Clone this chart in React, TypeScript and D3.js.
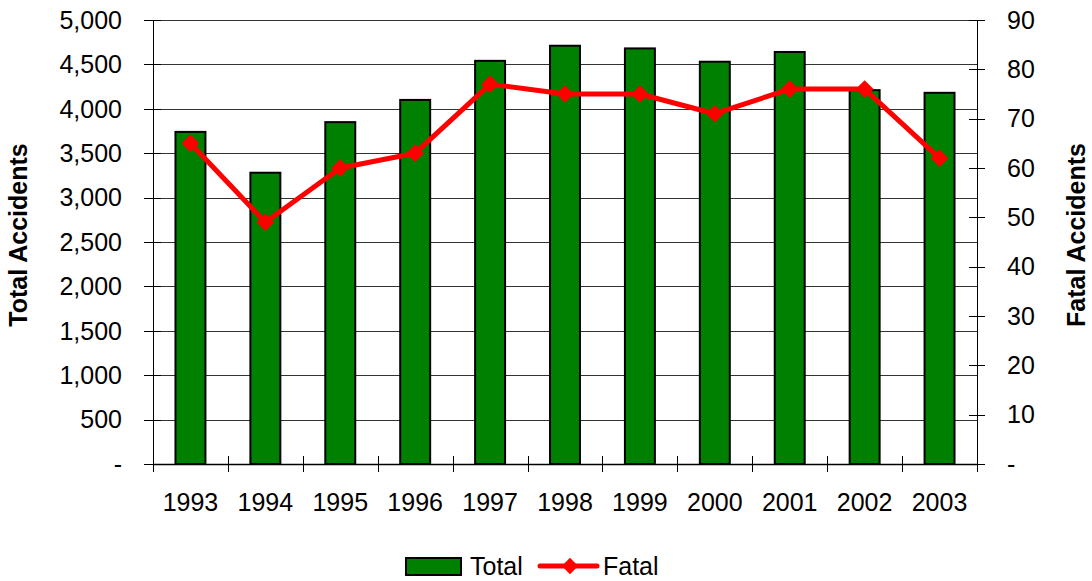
import React, { useEffect, useRef } from "react";
import * as d3 from "d3";

const years = ["1993", "1994", "1995", "1996", "1997", "1998", "1999", "2000", "2001", "2002", "2003"];
const totalAccidents = [3740, 3280, 3850, 4100, 4540, 4710, 4680, 4530, 4640, 4210, 4180];
const fatalAccidents = [65, 49, 60, 63, 77, 75, 75, 71, 76, 76, 62];
const leftTicks = [0, 500, 1000, 1500, 2000, 2500, 3000, 3500, 4000, 4500, 5000];
const rightTicks = [0, 10, 20, 30, 40, 50, 60, 70, 80, 90];

const App: React.FC = () => {
  const ref = useRef<SVGSVGElement | null>(null);

  useEffect(() => {
    if (!ref.current) return;
    const svg = d3.select(ref.current);
    svg.selectAll("*").remove();

    const margin = { top: 20, left: 153, right: 1092 - 977, bottom: 581 - 464 };
    const width = 1092;
    const height = 581;
    const innerW = width - margin.left - margin.right;
    const innerH = height - margin.top - margin.bottom;
    const font = "Arial, 'Liberation Sans', sans-serif";
    const fs = "25px";

    const x = d3.scaleBand().domain(years).range([0, innerW]).paddingInner(0.6).paddingOuter(0.3);
    const yL = d3.scaleLinear().domain([0, 5000]).range([innerH, 0]);
    const yR = d3.scaleLinear().domain([0, 90]).range([innerH, 0]);

    const g = svg.append("g").attr("transform", `translate(${margin.left},${margin.top})`);

    // gridlines
    g.selectAll(".grid")
      .data(leftTicks.slice(1))
      .enter()
      .append("line")
      .attr("x1", 0)
      .attr("x2", innerW)
      .attr("y1", d => Math.round(yL(d)) + 0.5)
      .attr("y2", d => Math.round(yL(d)) + 0.5)
      .attr("stroke", "#333")
      .attr("stroke-width", 1);

    // bars
    g.selectAll(".bar")
      .data(years)
      .enter()
      .append("rect")
      .attr("x", d => x(d)!)
      .attr("y", (d, i) => yL(totalAccidents[i]))
      .attr("width", x.bandwidth())
      .attr("height", (d, i) => innerH - yL(totalAccidents[i]))
      .attr("fill", "#008000")
      .attr("stroke", "#000")
      .attr("stroke-width", 2);

    // axes lines
    g.append("line").attr("x1", 0.5).attr("x2", 0.5).attr("y1", 0).attr("y2", innerH).attr("stroke", "#000");
    g.append("line").attr("x1", innerW + 0.5).attr("x2", innerW + 0.5).attr("y1", 0).attr("y2", innerH).attr("stroke", "#000");
    g.append("line").attr("x1", 0).attr("x2", innerW).attr("y1", innerH + 0.5).attr("y2", innerH + 0.5).attr("stroke", "#000").attr("stroke-width", 1.5);

    // left ticks + labels
    const fmt = d3.format(",");
    leftTicks.forEach(t => {
      const yy = Math.round(yL(t)) + 0.5;
      g.append("line").attr("x1", -9).attr("x2", 8).attr("y1", yy).attr("y2", yy).attr("stroke", "#000");
      g.append("text")
        .attr("x", -31)
        .attr("y", yL(t))
        .attr("dy", "0.35em")
        .attr("text-anchor", "end")
        .style("font-family", font)
        .style("font-size", fs)
        .text(t === 0 ? "-" : fmt(t));
    });

    // right ticks + labels
    rightTicks.forEach(t => {
      const yy = Math.round(yR(t)) + 0.5;
      g.append("line").attr("x1", innerW - 8).attr("x2", innerW + 8).attr("y1", yy).attr("y2", yy).attr("stroke", "#000");
      g.append("text")
        .attr("x", innerW + 30)
        .attr("y", yR(t))
        .attr("dy", "0.35em")
        .attr("text-anchor", "start")
        .style("font-family", font)
        .style("font-size", fs)
        .text(t === 0 ? "-" : String(t));
    });

    // x ticks at category boundaries
    const step = x.step();
    const outer = (innerW - step * years.length) / 2;
    d3.range(years.length + 1).forEach(i => {
      const xx = Math.round(outer + i * step) + 0.5;
      g.append("line").attr("x1", xx).attr("x2", xx).attr("y1", innerH - 8).attr("y2", innerH + 8).attr("stroke", "#000");
    });

    years.forEach(yr => {
      g.append("text")
        .attr("x", x(yr)! + x.bandwidth() / 2)
        .attr("y", innerH + 47)
        .attr("text-anchor", "middle")
        .style("font-family", font)
        .style("font-size", fs)
        .text(yr);
    });

    // fatal line
    const line = d3.line<number>()
      .x((d, i) => x(years[i])! + x.bandwidth() / 2)
      .y(d => yR(d));
    g.append("path")
      .datum(fatalAccidents)
      .attr("d", line)
      .attr("fill", "none")
      .attr("stroke", "#ff0000")
      .attr("stroke-width", 5)
      .attr("stroke-linejoin", "round");

    const diamond = d3.symbol().type(d3.symbolDiamond2).size(200);
    g.selectAll(".pt")
      .data(fatalAccidents)
      .enter()
      .append("path")
      .attr("d", diamond)
      .attr("transform", (d, i) => `translate(${x(years[i])! + x.bandwidth() / 2},${yR(d)})`)
      .attr("fill", "#ff0000");

    // axis titles
    svg.append("text")
      .attr("transform", `translate(27,235) rotate(-90)`)
      .attr("text-anchor", "middle")
      .style("font-family", font)
      .style("font-size", fs)
      .style("font-weight", "bold")
      .text("Total Accidents");

    svg.append("text")
      .attr("transform", `translate(1085,235) rotate(-90)`)
      .attr("text-anchor", "middle")
      .style("font-family", font)
      .style("font-size", fs)
      .style("font-weight", "bold")
      .text("Fatal Accidents");

    // legend
    const lg = svg.append("g");
    lg.append("rect").attr("x", 406).attr("y", 558).attr("width", 55).attr("height", 17)
      .attr("fill", "#008000").attr("stroke", "#000").attr("stroke-width", 2);
    lg.append("text").attr("x", 470).attr("y", 575)
      .style("font-family", font).style("font-size", fs).text("Total");
    lg.append("line").attr("x1", 540).attr("x2", 597).attr("y1", 566).attr("y2", 566)
      .attr("stroke", "#ff0000").attr("stroke-width", 5).attr("stroke-linecap", "round");
    lg.append("path").attr("d", d3.symbol().type(d3.symbolDiamond2).size(170)).attr("transform", "translate(570,566)").attr("fill", "#ff0000");
    lg.append("text").attr("x", 603).attr("y", 575)
      .style("font-family", font).style("font-size", fs).text("Fatal");
  }, []);

  return (
    <svg
      ref={ref}
      width={1092}
      height={581}
      style={{ position: "absolute", left: 0, top: 0, background: "#fff" }}
    />
  );
};

export default App;
